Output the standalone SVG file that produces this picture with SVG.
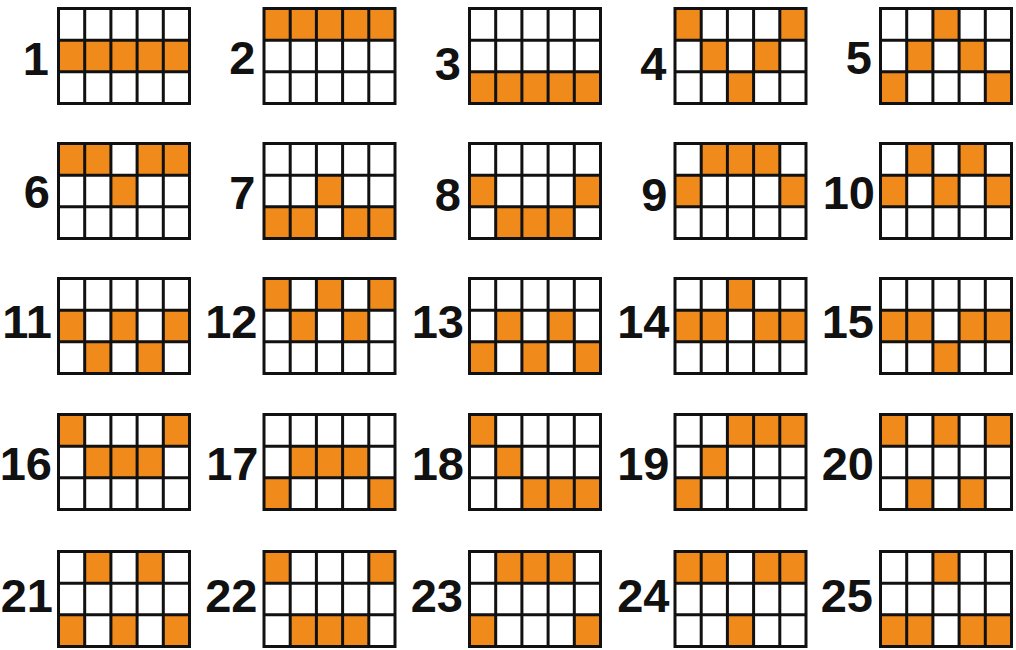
<svg xmlns="http://www.w3.org/2000/svg" xmlns:xlink="http://www.w3.org/1999/xlink" width="1016" height="650" viewBox="0 0 1016 650">
<style>
.o{fill:#F08A1A}
.f{fill:none;stroke:#111;stroke-width:3}
.lb{font-family:"Liberation Sans",Arial,sans-serif;font-weight:bold;font-size:47px;fill:#111;text-anchor:end}
</style>
<defs>
<rect id="c" class="o" width="26.2" height="31.67"/>
<g id="frame"><rect x="1.5" y="1.5" width="131" height="95" class="f"/><path class="f" d="M27.7 1.5V96.5M53.9 1.5V96.5M80.1 1.5V96.5M106.3 1.5V96.5M1.5 33.17H132.5M1.5 64.83H132.5"/></g>
</defs>
<rect width="1016" height="650" fill="#fff"/>

<g id="grid-1" transform="translate(57,7)"><text class="lb" x="-8" y="68">1</text>
<use href="#c" x="1.5" y="33.17"/><use href="#c" x="27.7" y="33.17"/><use href="#c" x="53.9" y="33.17"/><use href="#c" x="80.1" y="33.17"/><use href="#c" x="106.3" y="33.17"/>
<use href="#frame"/></g>
<g id="grid-2" transform="translate(262.5,7)"><text class="lb" x="-7" y="67">2</text>
<use href="#c" x="1.5" y="1.5"/><use href="#c" x="27.7" y="1.5"/><use href="#c" x="53.9" y="1.5"/><use href="#c" x="80.1" y="1.5"/><use href="#c" x="106.3" y="1.5"/>
<use href="#frame"/></g>
<g id="grid-3" transform="translate(468,7)"><text class="lb" x="-7" y="73">3</text>
<use href="#c" x="1.5" y="64.83"/><use href="#c" x="27.7" y="64.83"/><use href="#c" x="53.9" y="64.83"/><use href="#c" x="80.1" y="64.83"/><use href="#c" x="106.3" y="64.83"/>
<use href="#frame"/></g>
<g id="grid-4" transform="translate(673.5,7)"><text class="lb" x="-7" y="73">4</text>
<use href="#c" x="1.5" y="1.5"/><use href="#c" x="106.3" y="1.5"/><use href="#c" x="27.7" y="33.17"/><use href="#c" x="80.1" y="33.17"/><use href="#c" x="53.9" y="64.83"/>
<use href="#frame"/></g>
<g id="grid-5" transform="translate(879,7)"><text class="lb" x="-7" y="67">5</text>
<use href="#c" x="53.9" y="1.5"/><use href="#c" x="27.7" y="33.17"/><use href="#c" x="80.1" y="33.17"/><use href="#c" x="1.5" y="64.83"/><use href="#c" x="106.3" y="64.83"/>
<use href="#frame"/></g>

<g id="grid-6" transform="translate(57,142)"><text class="lb" x="-7" y="66">6</text>
<use href="#c" x="1.5" y="1.5"/><use href="#c" x="27.7" y="1.5"/><use href="#c" x="80.1" y="1.5"/><use href="#c" x="106.3" y="1.5"/><use href="#c" x="53.9" y="33.17"/>
<use href="#frame"/></g>
<g id="grid-7" transform="translate(262.5,142)"><text class="lb" x="-7" y="67">7</text>
<use href="#c" x="53.9" y="33.17"/><use href="#c" x="1.5" y="64.83"/><use href="#c" x="27.7" y="64.83"/><use href="#c" x="80.1" y="64.83"/><use href="#c" x="106.3" y="64.83"/>
<use href="#frame"/></g>
<g id="grid-8" transform="translate(468,142)"><text class="lb" x="-7" y="69">8</text>
<use href="#c" x="1.5" y="33.17"/><use href="#c" x="106.3" y="33.17"/><use href="#c" x="27.7" y="64.83"/><use href="#c" x="53.9" y="64.83"/><use href="#c" x="80.1" y="64.83"/>
<use href="#frame"/></g>
<g id="grid-9" transform="translate(673.5,142)"><text class="lb" x="-6" y="69">9</text>
<use href="#c" x="27.7" y="1.5"/><use href="#c" x="53.9" y="1.5"/><use href="#c" x="80.1" y="1.5"/><use href="#c" x="1.5" y="33.17"/><use href="#c" x="106.3" y="33.17"/>
<use href="#frame"/></g>
<g id="grid-10" transform="translate(879,142)"><text class="lb" x="-4" y="67">10</text>
<use href="#c" x="27.7" y="1.5"/><use href="#c" x="80.1" y="1.5"/><use href="#c" x="1.5" y="33.17"/><use href="#c" x="53.9" y="33.17"/><use href="#c" x="106.3" y="33.17"/>
<use href="#frame"/></g>

<g id="grid-11" transform="translate(57,277)"><text class="lb" x="-5" y="61">11</text>
<use href="#c" x="1.5" y="33.17"/><use href="#c" x="53.9" y="33.17"/><use href="#c" x="106.3" y="33.17"/><use href="#c" x="27.7" y="64.83"/><use href="#c" x="80.1" y="64.83"/>
<use href="#frame"/></g>
<g id="grid-12" transform="translate(262.5,277)"><text class="lb" x="-5" y="61">12</text>
<use href="#c" x="1.5" y="1.5"/><use href="#c" x="53.9" y="1.5"/><use href="#c" x="106.3" y="1.5"/><use href="#c" x="27.7" y="33.17"/><use href="#c" x="80.1" y="33.17"/>
<use href="#frame"/></g>
<g id="grid-13" transform="translate(468,277)"><text class="lb" x="-4" y="61">13</text>
<use href="#c" x="27.7" y="33.17"/><use href="#c" x="80.1" y="33.17"/><use href="#c" x="1.5" y="64.83"/><use href="#c" x="53.9" y="64.83"/><use href="#c" x="106.3" y="64.83"/>
<use href="#frame"/></g>
<g id="grid-14" transform="translate(673.5,277)"><text class="lb" x="-4" y="61">14</text>
<use href="#c" x="53.9" y="1.5"/><use href="#c" x="1.5" y="33.17"/><use href="#c" x="27.7" y="33.17"/><use href="#c" x="80.1" y="33.17"/><use href="#c" x="106.3" y="33.17"/>
<use href="#frame"/></g>
<g id="grid-15" transform="translate(879,277)"><text class="lb" x="-5" y="61">15</text>
<use href="#c" x="1.5" y="33.17"/><use href="#c" x="27.7" y="33.17"/><use href="#c" x="80.1" y="33.17"/><use href="#c" x="106.3" y="33.17"/><use href="#c" x="53.9" y="64.83"/>
<use href="#frame"/></g>

<g id="grid-16" transform="translate(57,413)"><text class="lb" x="-5" y="67">16</text>
<use href="#c" x="1.5" y="1.5"/><use href="#c" x="106.3" y="1.5"/><use href="#c" x="27.7" y="33.17"/><use href="#c" x="53.9" y="33.17"/><use href="#c" x="80.1" y="33.17"/>
<use href="#frame"/></g>
<g id="grid-17" transform="translate(262.5,413)"><text class="lb" x="-4" y="67">17</text>
<use href="#c" x="27.7" y="33.17"/><use href="#c" x="53.9" y="33.17"/><use href="#c" x="80.1" y="33.17"/><use href="#c" x="1.5" y="64.83"/><use href="#c" x="106.3" y="64.83"/>
<use href="#frame"/></g>
<g id="grid-18" transform="translate(468,413)"><text class="lb" x="-4" y="67">18</text>
<use href="#c" x="1.5" y="1.5"/><use href="#c" x="27.7" y="33.17"/><use href="#c" x="53.9" y="64.83"/><use href="#c" x="80.1" y="64.83"/><use href="#c" x="106.3" y="64.83"/>
<use href="#frame"/></g>
<g id="grid-19" transform="translate(673.5,413)"><text class="lb" x="-4" y="67">19</text>
<use href="#c" x="53.9" y="1.5"/><use href="#c" x="80.1" y="1.5"/><use href="#c" x="106.3" y="1.5"/><use href="#c" x="27.7" y="33.17"/><use href="#c" x="1.5" y="64.83"/>
<use href="#frame"/></g>
<g id="grid-20" transform="translate(879,413)"><text class="lb" x="-5" y="67">20</text>
<use href="#c" x="1.5" y="1.5"/><use href="#c" x="53.9" y="1.5"/><use href="#c" x="106.3" y="1.5"/><use href="#c" x="27.7" y="64.83"/><use href="#c" x="80.1" y="64.83"/>
<use href="#frame"/></g>

<g id="grid-21" transform="translate(57,550)"><text class="lb" x="-4" y="62">21</text>
<use href="#c" x="27.7" y="1.5"/><use href="#c" x="80.1" y="1.5"/><use href="#c" x="1.5" y="64.83"/><use href="#c" x="53.9" y="64.83"/><use href="#c" x="106.3" y="64.83"/>
<use href="#frame"/></g>
<g id="grid-22" transform="translate(262.5,550)"><text class="lb" x="-5" y="62">22</text>
<use href="#c" x="1.5" y="1.5"/><use href="#c" x="106.3" y="1.5"/><use href="#c" x="27.7" y="64.83"/><use href="#c" x="53.9" y="64.83"/><use href="#c" x="80.1" y="64.83"/>
<use href="#frame"/></g>
<g id="grid-23" transform="translate(468,550)"><text class="lb" x="-5" y="62">23</text>
<use href="#c" x="27.7" y="1.5"/><use href="#c" x="53.9" y="1.5"/><use href="#c" x="80.1" y="1.5"/><use href="#c" x="1.5" y="64.83"/><use href="#c" x="106.3" y="64.83"/>
<use href="#frame"/></g>
<g id="grid-24" transform="translate(673.5,550)"><text class="lb" x="-4" y="62">24</text>
<use href="#c" x="1.5" y="1.5"/><use href="#c" x="27.7" y="1.5"/><use href="#c" x="80.1" y="1.5"/><use href="#c" x="106.3" y="1.5"/><use href="#c" x="53.9" y="64.83"/>
<use href="#frame"/></g>
<g id="grid-25" transform="translate(879,550)"><text class="lb" x="-6" y="62">25</text>
<use href="#c" x="53.9" y="1.5"/><use href="#c" x="1.5" y="64.83"/><use href="#c" x="27.7" y="64.83"/><use href="#c" x="80.1" y="64.83"/><use href="#c" x="106.3" y="64.83"/>
<use href="#frame"/></g>
</svg>
